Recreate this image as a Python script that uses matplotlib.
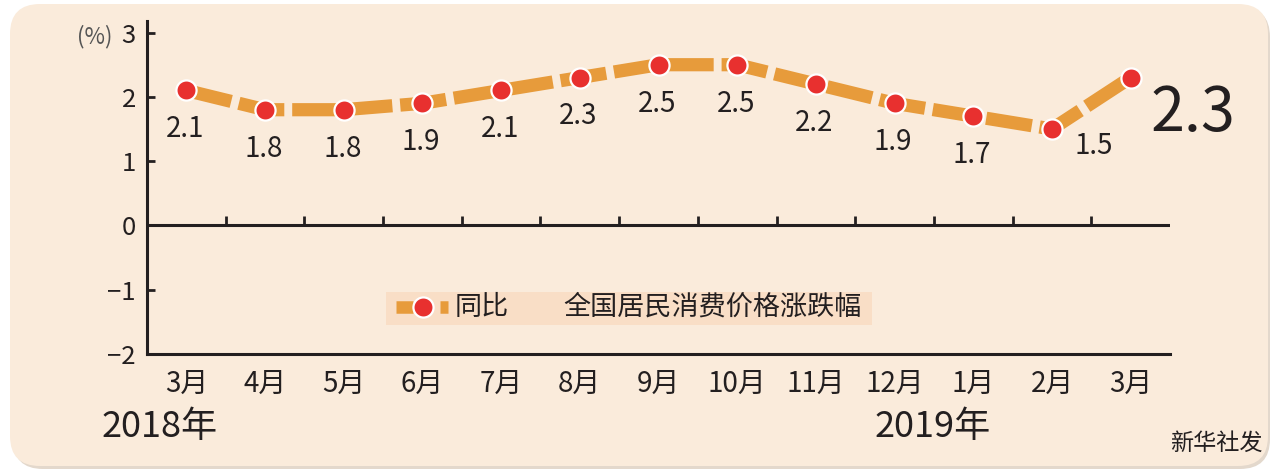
import matplotlib
matplotlib.use("Agg")
import matplotlib.pyplot as plt
from matplotlib.patches import FancyBboxPatch, Rectangle
from matplotlib.transforms import IdentityTransform
import numpy as np

plt.rcParams['font.family'] = ['Noto Sans CJK SC', 'DejaVu Sans']
plt.rcParams['axes.unicode_minus'] = True

# ---- data ----
months = ["3月", "4月", "5月", "6月", "7月", "8月", "9月", "10月", "11月", "12月", "1月", "2月", "3月"]
cpi_yoy = [2.1, 1.8, 1.8, 1.9, 2.1, 2.3, 2.5, 2.5, 2.2, 1.9, 1.7, 1.5, 2.3]
value_labels = ["2.1", "1.8", "1.8", "1.9", "2.1", "2.3", "2.5", "2.5", "2.2", "1.9", "1.7", "1.5", "2.3"]
yticks = [3, 2, 1, 0, -1, -2]
year_labels = ["2018年", "2019年"]
legend_sample = "同比"
legend_title = "全国居民消费价格涨跌幅"
source = "新华社发"
unit = "(%)"

ORANGE = "#E79B3B"
RED = "#E8302F"
DARK = "#231F20"
PANEL = "#FAEBDB"

W, H = 1275, 473
fig = plt.figure(figsize=(W / 100, H / 100), dpi=100)
fig.patch.set_facecolor("white")

# panel background with soft shadow
shadow = FancyBboxPatch((13, 4), 1257, 462, boxstyle="round,pad=0,rounding_size=30",
                        transform=IdentityTransform(), facecolor="#E3D8CC", edgecolor="none", zorder=0)
panel = FancyBboxPatch((10, 7), 1258, 462, boxstyle="round,pad=0,rounding_size=30",
                       transform=IdentityTransform(), facecolor=PANEL, edgecolor="none", zorder=0)
fig.add_artist(shadow)
fig.add_artist(panel)

ax = fig.add_axes([147 / W, 119 / H, 1023 / W, 333 / H])
ax.set_facecolor("none")
x = np.arange(len(months))

ax.set_xlim(-0.5, len(months) - 0.5)
ax.set_ylim(-2, 3.18)

# spines
for s in ["top", "right"]:
    ax.spines[s].set_visible(False)
for s in ["left", "bottom"]:
    ax.spines[s].set_linewidth(2.2)
    ax.spines[s].set_color(DARK)

# zero line with upward ticks at category boundaries
ax.axhline(0, color=DARK, lw=2.2, zorder=1)
ax.vlines(x[:-1] + 0.5, 0, 0.14, color=DARK, lw=2.0, zorder=1)

ax.set_yticks(yticks)
ax.set_yticklabels([str(v).replace("-", "−") for v in yticks], fontsize=18.5, color=DARK)
ax.tick_params(axis="y", direction="in", length=6, width=2, color=DARK, pad=8)
ax.set_xticks(x)
ax.set_xticklabels(months, fontsize=20, color=DARK)
ax.tick_params(axis="x", length=0, pad=11)

# line & markers
ax.plot(x, cpi_yoy, color=ORANGE, lw=9.5, dashes=(3.5, 0.6), solid_capstyle="butt",
        dash_capstyle="butt", zorder=2)
ax.plot(x, cpi_yoy, "o", ms=14.5, mfc=RED, mec="white", mew=1.6, zorder=3)

# value labels
for i, (xi, yi, lab) in enumerate(zip(x, cpi_yoy, value_labels)):
    if i == len(x) - 1:
        ax.annotate(lab, (xi, yi), xytext=(14, -26), textcoords="offset points",
                    ha="left", va="center", fontsize=44, color=DARK)
    elif i == len(x) - 2:
        ax.annotate(lab, (xi, yi), xytext=(30, -12), textcoords="offset points",
                    ha="center", va="center", fontsize=20, color=DARK)
    else:
        ax.annotate(lab, (xi, yi), xytext=(-1, -28), textcoords="offset points",
                    ha="center", va="center", fontsize=20, color=DARK)

# unit label
fig.text(95 / W, 1 - 37 / H, unit, fontsize=16, color="#555555", ha="center", va="center")

# legend box
ax.add_patch(Rectangle((0.2336, 0.087), 0.4751, 0.099, transform=ax.transAxes,
                       facecolor="#F9DEC6", edgecolor="none", zorder=1))
ax.plot([0.2434, 0.2600], [0.141, 0.141], transform=ax.transAxes, color=ORANGE, lw=9,
        solid_capstyle="butt", zorder=2)
ax.plot([0.2864, 0.2942], [0.141, 0.141], transform=ax.transAxes, color=ORANGE, lw=9,
        solid_capstyle="butt", zorder=2)
ax.plot([0.2698], [0.141], "o", transform=ax.transAxes, ms=14.5, mfc=RED, mec="white",
        mew=1.6, zorder=3)
ax.text(0.3011, 0.141, legend_sample, transform=ax.transAxes, fontsize=19.5, color=DARK,
        ha="left", va="center")
ax.text(0.4067, 0.141, legend_title, transform=ax.transAxes, fontsize=19.5, color=DARK,
        ha="left", va="center")

# year labels and source
fig.text(102 / W, 1 - 427 / H, year_labels[0], fontsize=26, color=DARK, ha="left", va="center")
fig.text(875 / W, 1 - 427 / H, year_labels[1], fontsize=26, color=DARK, ha="left", va="center")
fig.text(1170 / W, 1 - 443 / H, source, fontsize=16.7, color=DARK, ha="left", va="center")

fig.savefig("out.png", dpi=100, facecolor=fig.get_facecolor())
